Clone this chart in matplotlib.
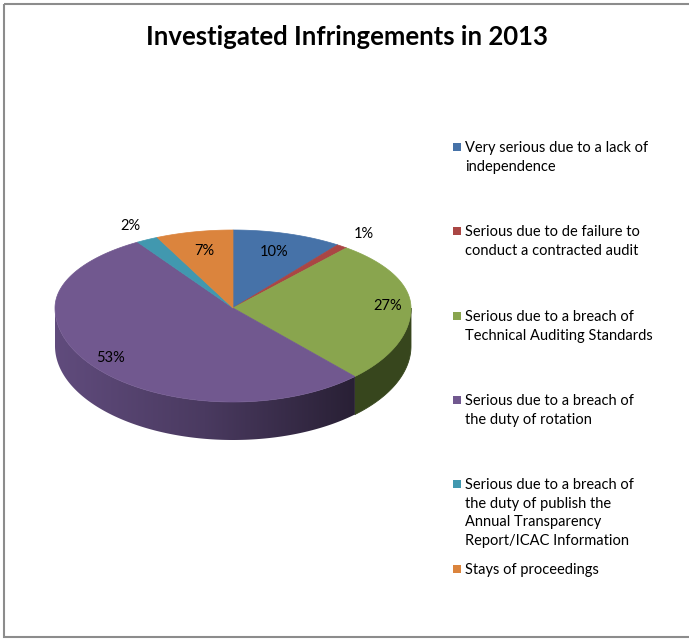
import numpy as np
import matplotlib
matplotlib.use("Agg")
from matplotlib import pyplot as plt
from matplotlib.patches import Polygon, Rectangle
from matplotlib.colors import to_rgb, LinearSegmentedColormap

title = "Investigated Infringements in 2013"
categories = [
    "Very serious due to a lack of\nindependence",
    "Serious due to de failure to\nconduct a contracted audit",
    "Serious due to a breach of\nTechnical Auditing Standards",
    "Serious due to a breach of\nthe duty of rotation",
    "Serious due to a breach of\nthe duty of publish the\nAnnual Transparency\nReport/ICAC Information",
    "Stays of proceedings",
]
values = [10, 1, 27, 53, 2, 7]
colors = ["#4672A8", "#AA4644", "#89A54E", "#71588F", "#4198AF", "#DB843D"]
side_colors = ["#2E4A6E", "#6E2C2B", "#37461D", "#4A3A60", "#2A6272", "#8E5627"]

plt.rcParams["font.family"] = ["Lato", "DejaVu Sans"]

fig = plt.figure(figsize=(6.89, 6.40), dpi=100)
ax = fig.add_axes([0, 0, 1, 1])
ax.set_xlim(0, 689)
ax.set_ylim(640, 0)
ax.axis("off")

# chart frame
ax.add_patch(Rectangle((4, 4), 700, 633, fill=False, edgecolor="#8C8C8C", lw=1.5))

ax.text(347, 37, title, ha="center", va="center", fontsize=18.5, fontweight="bold")

# 3-D pie geometry (pixel units)
cx, cy = 233, 308
rx, ry_back, ry_front = 178, 78, 94
depth = 38


def point(theta, r=1.0, dz=0.0):
    s = np.sin(theta)
    ry = ry_back if s > 0 else ry_front
    return cx + r * rx * np.cos(theta), cy - r * ry * s + dz


total = sum(values)
fracs = [v / total for v in values]
starts = np.pi / 2 - 2 * np.pi * np.concatenate([[0], np.cumsum(fracs)[:-1]])
ends = starts - 2 * np.pi * np.array(fracs)

# side walls: only the front half (sin < 0) is visible
for i in range(len(values)):
    a0, a1 = starts[i], ends[i]
    for k in range(-1, 2):
        lo = max(min(a0, a1), -np.pi + 2 * np.pi * k)
        hi = min(max(a0, a1), 0 + 2 * np.pi * k)
        if hi <= lo:
            continue
        th = np.linspace(hi, lo, 200)
        top = [point(t) for t in th]
        bot = [(x, y + depth) for x, y in top[::-1]]
        base = to_rgb(side_colors[i])
        if values[i] > 30:
            # horizontal shading, lighter on the left, darker on the right
            wall = Polygon(top + bot, closed=True, facecolor="none", edgecolor="none")
            ax.add_patch(wall)
            light = tuple(min(1, c * 1.3) for c in base)
            dark = tuple(c * 0.55 for c in base)
            cmap = LinearSegmentedColormap.from_list("wall", [light, base, dark])
            xs = [p[0] for p in top]
            x0, x1 = min(xs), max(xs)
            grad = np.linspace(0, 1, 256).reshape(1, -1)
            im = ax.imshow(grad, cmap=cmap, extent=(x0, x1, cy + ry_front + depth + 2, cy - 5),
                           aspect="auto", interpolation="bilinear", zorder=1)
            im.set_clip_path(wall)
        else:
            ax.add_patch(Polygon(top + bot, closed=True, facecolor=base, edgecolor=base,
                                 lw=0.6, zorder=1))

# top faces
for i in range(len(values)):
    th = np.linspace(starts[i], ends[i], 200)
    poly = [(cx, cy)] + [point(t) for t in th]
    ax.add_patch(Polygon(poly, closed=True, facecolor=colors[i], edgecolor=colors[i],
                         lw=0.5, zorder=2))

# percentage labels
for i in range(len(values)):
    mid = (starts[i] + ends[i]) / 2
    pct = f"{round(100 * fracs[i])}%"
    if fracs[i] < 0.03:
        r = 1.2
    elif fracs[i] > 0.2:
        r = 0.87
    else:
        r = 0.75
    x, y = point(mid, r)
    ax.text(x, y, pct, ha="center", va="center", fontsize=10.5, color="black", zorder=3)

ax.set_xlim(0, 689)
ax.set_ylim(640, 0)

# legend
leg_y = [147, 231, 316, 400, 484, 569]
for i, lab in enumerate(categories):
    ax.add_patch(Rectangle((453, leg_y[i] - 4), 8, 8, facecolor=colors[i], edgecolor="none"))
    ax.text(465, leg_y[i] - 6, lab, ha="left", va="top", fontsize=10.5,
            linespacing=1.42, color="black")

fig.savefig("out.png", dpi=100)
